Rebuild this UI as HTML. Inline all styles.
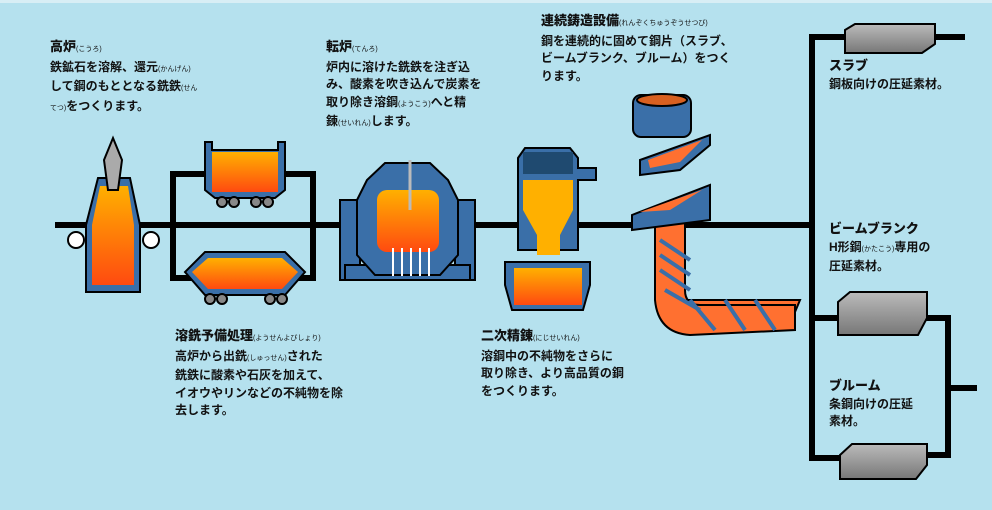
<!DOCTYPE html>
<html><head><meta charset="utf-8"><style>
body{margin:0;width:992px;height:510px;overflow:hidden;background:#b5e1ee;font-family:"Liberation Sans","Noto Sans CJK JP",sans-serif}
.t{position:absolute;font-size:12px;font-weight:bold;line-height:17.5px;color:#111;white-space:nowrap}
.t b{font-size:13px}
.t small{font-size:7px;font-weight:normal}
</style></head><body>
<svg width="992" height="510" style="position:absolute;left:0;top:0">
<defs>
<linearGradient id="g" x1="0" y1="0" x2="0" y2="1"><stop offset="0" stop-color="#ffb000"/><stop offset="1" stop-color="#ff4a10"/></linearGradient>
<linearGradient id="gr" x1="0" y1="0" x2="0" y2="1"><stop offset="0" stop-color="#bbb"/><stop offset="1" stop-color="#777"/></linearGradient>
</defs>
<rect x="0" y="0" width="992" height="3" fill="#d8eef5"/>
<g stroke="#000" stroke-width="6" fill="none">
<line x1="55" y1="225" x2="815" y2="225"/>
<rect x="173" y="174" width="140" height="104"/>
<polyline points="965,37 812,37 812,458 845,458"/>
<polyline points="812,318 948,318 948,455 920,455"/>
<line x1="948" y1="388" x2="977" y2="388"/>
</g>
<!-- blast furnace -->
<g stroke="#000" stroke-width="2">
<circle cx="76" cy="240" r="8" fill="#fff"/><circle cx="151" cy="240" r="8" fill="#fff"/>
<path d="M98,178 L130,178 L140,225 L140,292 L86,292 L86,225 Z" fill="#3a6fa8"/>
<path d="M100,186 L128,186 L134,225 L134,285 L92,285 L92,225 Z" fill="url(#g)" stroke="none"/>
<path d="M113,138 L122,160 L118,190 L108,190 L104,160 Z" fill="#aaa"/>
</g>
<!-- ladle top -->
<g stroke="#000" stroke-width="2">
<path d="M205,142 L212,142 L212,150 L278,150 L278,142 L285,142 L285,190 L275,198 L215,198 L205,190 Z" fill="#3a6fa8"/>
<rect x="212" y="152" width="66" height="40" fill="url(#g)" stroke="none"/>
<g fill="#888"><circle cx="222" cy="202" r="5"/><circle cx="234" cy="202" r="5"/><circle cx="256" cy="202" r="5"/><circle cx="268" cy="202" r="5"/></g>
</g>
<!-- torpedo -->
<g stroke="#000" stroke-width="2">
<path d="M205,252 L285,252 L305,272 L285,295 L205,295 L185,272 Z" fill="#3a6fa8"/>
<path d="M208,258 L282,258 L298,272 L282,289 L208,289 L192,272 Z" fill="url(#g)" stroke="none"/>
<g fill="#888"><circle cx="210" cy="299" r="5"/><circle cx="222" cy="299" r="5"/><circle cx="270" cy="299" r="5"/><circle cx="282" cy="299" r="5"/></g>
</g>
<!-- converter -->
<g stroke="#000" stroke-width="2">
<rect x="340" y="200" width="20" height="80" fill="#3a6fa8"/><rect x="455" y="200" width="20" height="80" fill="#3a6fa8"/>
<rect x="345" y="265" width="125" height="15" fill="#3a6fa8"/>
<path d="M385,163 L430,163 L448,180 L458,200 L458,255 L440,275 L375,275 L357,255 L357,200 L367,180 Z" fill="#3a6fa8"/>
<rect x="377" y="190" width="62" height="62" rx="10" fill="url(#g)" stroke="none"/>
<line x1="410" y1="160" x2="410" y2="210" stroke="#bbb" stroke-width="3"/>
<g stroke="#fff" stroke-width="2"><line x1="393" y1="248" x2="393" y2="276"/><line x1="402" y1="248" x2="402" y2="276"/><line x1="411" y1="248" x2="411" y2="276"/><line x1="420" y1="248" x2="420" y2="276"/><line x1="429" y1="248" x2="429" y2="276"/></g>
</g>
<!-- secondary refining -->
<g stroke="#000" stroke-width="2">
<path d="M525,148 L570,148 L578,158 L578,168 L596,168 L596,180 L578,180 L578,250 L518,250 L518,158 Z" fill="#3a6fa8"/>
<rect x="523" y="152" width="50" height="22" fill="#1f4a70" stroke="none"/>
<path d="M523,180 L573,180 L573,210 L560,235 L560,255 L537,255 L537,235 L523,210 Z" fill="#ffb000" stroke="none"/>
<path d="M505,262 L590,262 L590,285 L583,310 L512,310 L505,285 Z" fill="#3a6fa8"/>
<rect x="514" y="268" width="68" height="37" fill="url(#g)" stroke="none"/>
</g>
<!-- continuous caster -->
<g stroke="#000" stroke-width="2">
<path d="M685,300 L800,300 L795,312 L685,312 Z" fill="#ff7030"/>
<path d="M655,220 L685,220 L685,290 Q685,305 700,305 L795,305 L795,330 L690,335 Q658,333 655,300 Z" fill="#ff7030"/>
<g stroke="#3a6fa8" stroke-width="4"><line x1="660" y1="240" x2="690" y2="260"/><line x1="660" y1="255" x2="690" y2="275"/><line x1="660" y1="270" x2="690" y2="290"/><line x1="665" y1="290" x2="700" y2="310"/><line x1="690" y1="300" x2="715" y2="330"/><line x1="725" y1="300" x2="745" y2="330"/><line x1="755" y1="300" x2="775" y2="330"/></g>
<rect x="633" y="95" width="58" height="42" rx="8" fill="#3a6fa8"/>
<ellipse cx="662" cy="100" rx="25" ry="6" fill="#d86020"/>
<path d="M640,160 L710,135 L710,145 L680,170 L640,175 Z" fill="#3a6fa8"/>
<path d="M648,160 L702,140 L680,162 L650,168 Z" fill="#ff7030" stroke="none"/>
<path d="M632,215 L710,185 L710,220 L632,230 Z" fill="#3a6fa8"/>
<path d="M640,212 L702,190 L670,210 Z" fill="#ff7030" stroke="none"/>
</g>
<!-- steel blocks -->
<g stroke="#000" stroke-width="2">
<path d="M845,30 L855,24 L935,24 L935,44 L922,53 L845,53 Z" fill="url(#gr)"/>
<path d="M838,302 L850,292 L927,292 L927,318 L918,335 L838,335 Z" fill="url(#gr)"/>
<path d="M840,455 L852,444 L927,444 L927,465 L916,479 L840,479 Z" fill="url(#gr)"/>
</g>
</svg>
<div class="t" style="left:50px;top:38px"><b>高炉</b><small>(こうろ)</small><br>鉄鉱石を溶解、還元<small>(かんげん)</small><br>して鋼のもととなる銑鉄<small>(せん</small><br><small>てつ)</small>をつくります。</div>
<div class="t" style="left:326px;top:38px"><b>転炉</b><small>(てんろ)</small><br>炉内に溶けた銑鉄を注ぎ込<br>み、酸素を吹き込んで炭素を<br>取り除き溶鋼<small>(ようこう)</small>へと精<br>錬<small>(せいれん)</small>します。</div>
<div class="t" style="left:541px;top:12px"><b>連続鋳造設備</b><small>(れんぞくちゅうぞうせつび)</small><br>鋼を連続的に固めて鋼片（スラブ、<br>ビームブランク、ブルーム）をつく<br>ります。</div>
<div class="t" style="left:175px;top:327px"><b>溶銑予備処理</b><small>(ようせんよびしょり)</small><br>高炉から出銑<small>(しゅっせん)</small>された<br>銑鉄に酸素や石灰を加えて、<br>イオウやリンなどの不純物を除<br>去します。</div>
<div class="t" style="left:481px;top:327px"><b>二次精錬</b><small>(にじせいれん)</small><br>溶鋼中の不純物をさらに<br>取り除き、より高品質の鋼<br>をつくります。</div>
<div class="t" style="left:829px;top:57px"><b>スラブ</b><br>鋼板向けの圧延素材。</div>
<div class="t" style="left:829px;top:220px"><b>ビームブランク</b><br>H形鋼<small>(かたこう)</small>専用の<br>圧延素材。</div>
<div class="t" style="left:829px;top:377px"><b>ブルーム</b><br>条鋼向けの圧延<br>素材。</div>
</body></html>
